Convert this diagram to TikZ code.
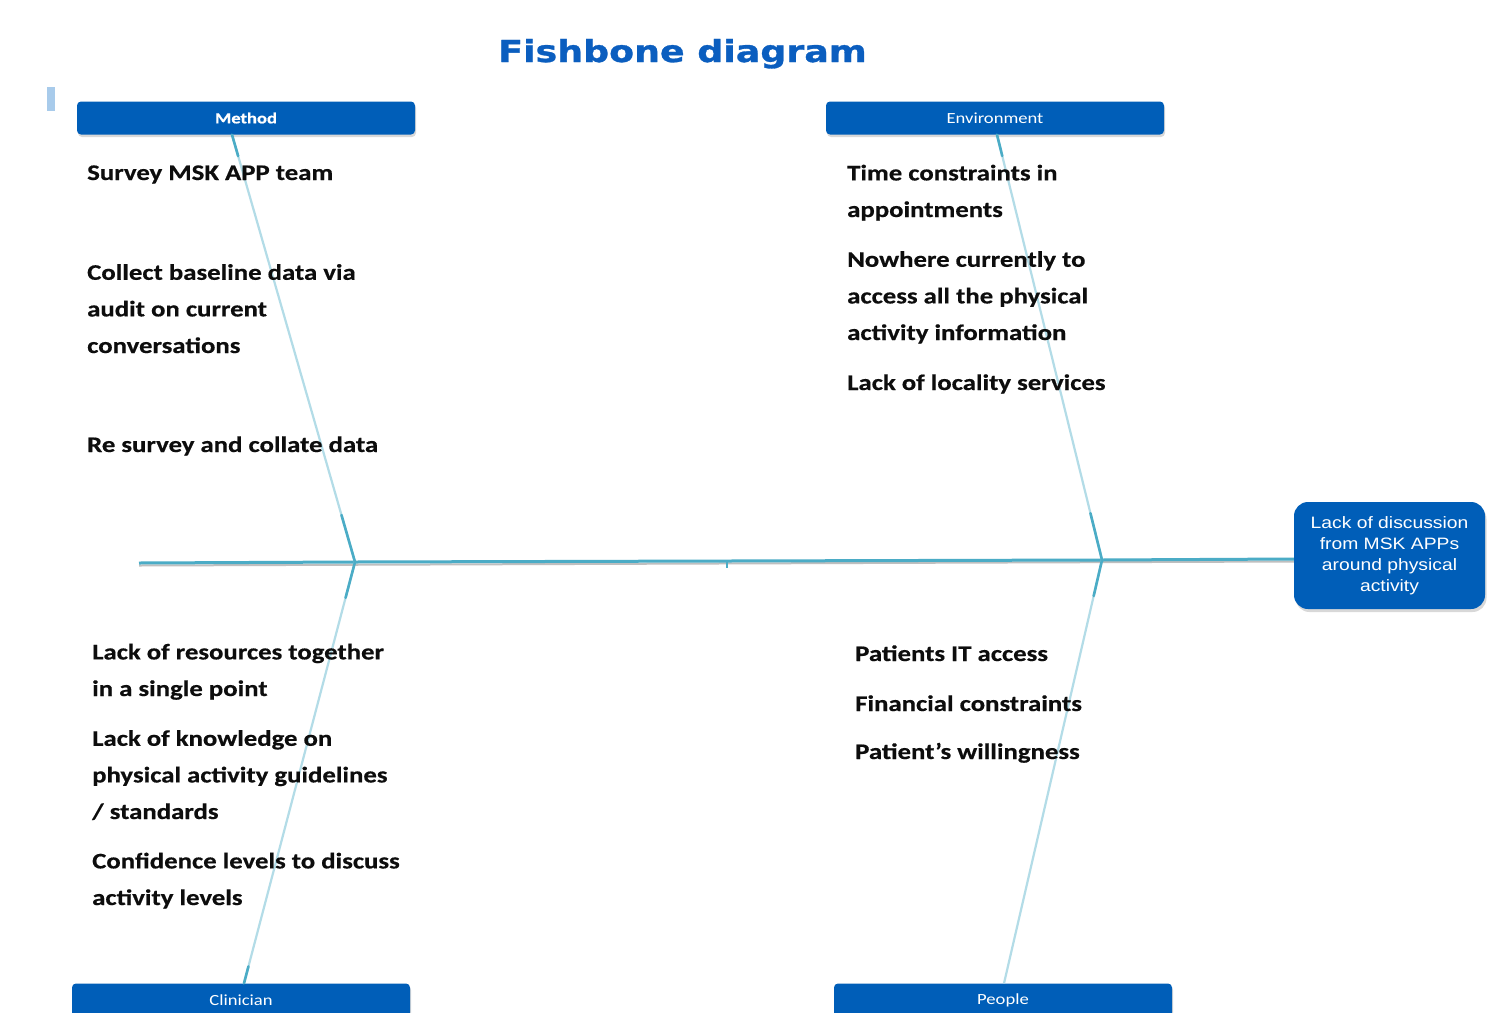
\documentclass[tikz,border=0pt]{standalone}
\usepackage{fontspec}
\usetikzlibrary{calc,shadows}
\newfontfamily\calfont{Carlito}[FakeStretch=1.2, BoldFeatures={FakeBold=0.5}]
\newfontfamily\titlefont{DejaVu Sans}[FakeStretch=1.2, BoldFeatures={FakeBold=1}]
\newfontfamily\arialfont{Liberation Sans}[FakeStretch=1.17]
\definecolor{nhsblue}{HTML}{005EB8}
\definecolor{titleblue}{HTML}{0B5EBF}
\definecolor{spinecol}{HTML}{4BACC6}
\definecolor{bonelight}{HTML}{B3DCE7}
\definecolor{marklight}{HTML}{A8CBEB}
\definecolor{txt}{HTML}{0D0D0D}
\tikzset{
  cat/.style={fill=nhsblue, rounded corners=4pt, minimum width=338pt, minimum height=33pt,
    inner sep=0pt, text=white, font=\calfont\fontsize{15.5}{18}\selectfont,
    drop shadow={opacity=0.3, shadow xshift=1pt, shadow yshift=-2.5pt}},
  effectbox/.style={fill=nhsblue, rounded corners=14pt, minimum width=191pt, minimum height=107pt,
    inner sep=0pt, text=white, align=center, font=\arialfont\fontsize{16.5}{21}\selectfont,
    drop shadow={opacity=0.3, shadow xshift=1.5pt, shadow yshift=-3pt}},
  cause/.style={font=\calfont\bfseries\fontsize{22.3}{36.6}\selectfont, align=left,
    inner sep=0pt, anchor=base west, text=txt},
  spineline/.style={draw=spinecol, line width=3pt},
  spineshadow/.style={draw=black!25, line width=2pt},
  bonefaint/.style={draw=bonelight, line width=2.2pt},
  bonedark/.style={draw=spinecol, line width=2.6pt, line cap=round},
}
\begin{document}
\begin{tikzpicture}[x=1pt,y=-1pt]
\clip (0,0) rectangle (1504,1012);
\fill[white] (0,0) rectangle (1504,1012);

% title and small mark
\node[font=\titlefont\bfseries\fontsize{30.3}{36}\selectfont, text=titleblue, anchor=base, inner sep=0pt] (title) at (682.5,62) {Fishbone diagram};
\fill[marklight] (47,87) rectangle (55,111);

% category boxes and effect
\node[cat, font=\calfont\bfseries\fontsize{15.5}{18}\selectfont] (method) at (246,118) {Method};
\node[cat] (env) at (995,118) {Environment};
\node[cat] (clin) at (241,1000) {Clinician};
\node[cat] (people) at (1003,1000) {People};
\node[effectbox] (effect) at (1389.5,555.5) {Lack of discussion\\from MSK APPs\\around physical\\activity};

% spine
\coordinate (tail) at (139,563);
\coordinate (j1) at (355,562);
\coordinate (j2) at (1102,560);
\coordinate (ms) at ($(method.south)+(-14,0)$);
\coordinate (es) at ($(env.south)+(2,0)$);
\coordinate (cs) at ($(clin.north)+(3,0)$);
\coordinate (ps) at ($(people.north)+(1,0)$);

\draw[spineshadow] ($(tail)+(0,2.5)$) -- ($(effect.west)+(0,6)$);
\draw[spineline] (tail) -- (j1) -- (j2) -- ($(effect.west)+(0,3.5)$);
\draw[draw=spinecol, line width=1.5pt] (727,562) -- (727,568);

% bones
\draw[bonefaint] (ms) -- (j1);
\draw[bonedark] (j1) -- ($(j1)!0.11!(ms)$);
\draw[bonedark] (ms) -- ($(ms)!0.05!(j1)$);
\draw[bonefaint] (j1) -- (cs);
\draw[bonedark] (j1) -- ($(j1)!0.085!(cs)$);
\draw[bonedark] (cs) -- ($(cs)!0.04!(j1)$);
\draw[bonefaint] (es) -- (j2);
\draw[bonedark] (j2) -- ($(j2)!0.11!(es)$);
\draw[bonedark] (es) -- ($(es)!0.05!(j2)$);
\draw[bonefaint] (j2) -- (ps);
\draw[bonedark] (j2) -- ($(j2)!0.085!(ps)$);

% causes (multi-line nodes: base = baseline of last line)
\node[cause] (m1) at (87,180) {Survey MSK APP team};
\node[cause] (m2) at (87,353) {Collect baseline data via\\audit on current\\conversations};
\node[cause] (m3) at (87,452) {Re survey and collate data};
\node[cause] (e1) at (847,217) {Time constraints in\\appointments};
\node[cause] (e2) at (847,340) {Nowhere currently to\\access all the physical\\activity information};
\node[cause] (e3) at (847,390) {Lack of locality services};
\node[cause] (c1) at (92,696) {Lack of resources together\\in a single point};
\node[cause] (c2) at (92,819) {Lack of knowledge on\\physical activity guidelines\\/ standards};
\node[cause] (c3) at (92,905) {Confidence levels to discuss\\activity levels};
\node[cause] (p1) at (855,661) {Patients IT access};
\node[cause] (p2) at (855,711) {Financial constraints};
\node[cause] (p3) at (855,759) {Patient’s willingness};
\end{tikzpicture}
\end{document}
